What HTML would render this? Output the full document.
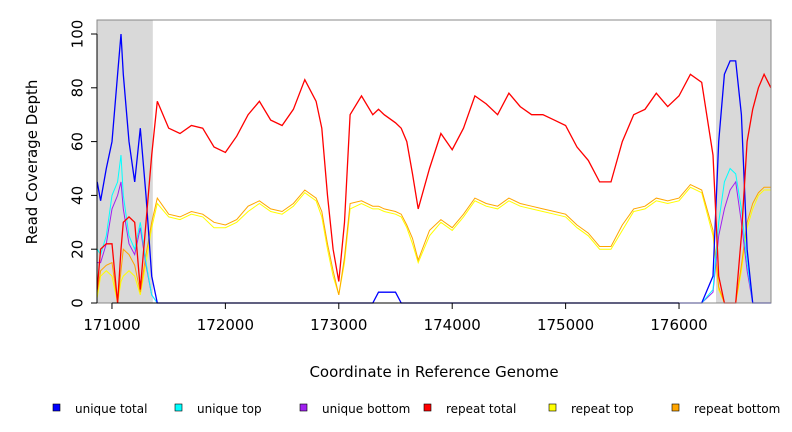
<!DOCTYPE html>
<html><head><meta charset="utf-8">
<style>
body{margin:0;background:#fff;font-family:"DejaVu Sans","Liberation Sans",sans-serif;}
svg{display:block}
</style></head>
<body>
<svg id="chart" width="792" height="432">
<g id="plot"></g>
</svg>
<script>
const coords=[170870,170900,170950,171000,171050,171080,171100,171150,171200,171250,171300,171350,171400,171500,171600,171700,171800,171900,172000,172100,172200,172300,172400,172500,172600,172700,172800,172850,172900,172950,173000,173050,173100,173200,173300,173350,173400,173500,173550,173600,173650,173700,173800,173900,174000,174100,174200,174300,174400,174500,174600,174700,174800,174900,175000,175100,175200,175300,175400,175500,175600,175700,175800,175900,176000,176100,176200,176300,176350,176400,176450,176500,176550,176600,176650,176700,176750,176810];
const uniqueTotal=[45,38,50,60,85,100,85,60,45,65,40,10,0,0,0,0,0,0,0,0,0,0,0,0,0,0,0,0,0,0,0,0,0,0,0,4,4,4,0,0,0,0,0,0,0,0,0,0,0,0,0,0,0,0,0,0,0,0,0,0,0,0,0,0,0,0,0,10,60,85,90,90,70,20,0,0,0,0];
const uniqueTop=[20,18,25,40,45,55,40,25,20,30,15,3,0,0,0,0,0,0,0,0,0,0,0,0,0,0,0,0,0,0,0,0,0,0,0,0,0,0,0,0,0,0,0,0,0,0,0,0,0,0,0,0,0,0,0,0,0,0,0,0,0,0,0,0,0,0,0,5,30,45,50,48,35,15,0,0,0,0];
const uniqueBottom=[15,15,22,35,40,45,35,22,18,28,14,3,0,0,0,0,0,0,0,0,0,0,0,0,0,0,0,0,0,0,0,0,0,0,0,0,0,0,0,0,0,0,0,0,0,0,0,0,0,0,0,0,0,0,0,0,0,0,0,0,0,0,0,0,0,0,0,4,25,35,42,45,30,12,0,0,0,0];
const repeatTotal=[5,20,22,22,0,20,30,32,30,5,30,55,75,65,63,66,65,58,56,62,70,75,68,66,72,83,75,65,40,20,8,30,70,77,70,72,70,67,65,60,48,35,50,63,57,65,77,74,70,78,73,70,70,68,66,58,53,45,45,60,70,72,78,73,77,85,82,55,10,0,0,0,25,60,72,80,85,80];
const repeatTop=[2,10,12,10,0,8,10,12,10,3,15,28,37,32,31,33,32,28,28,30,34,37,34,33,36,41,38,32,20,10,3,15,35,37,35,35,34,33,32,28,22,15,25,30,27,32,38,36,35,38,36,35,34,33,32,28,25,20,20,27,34,35,38,37,38,43,41,25,5,0,0,0,12,28,35,40,42,42];
const repeatBottom=[4,12,14,15,0,12,20,18,14,4,18,30,39,33,32,34,33,30,29,31,36,38,35,34,37,42,39,34,22,12,3,17,37,38,36,36,35,34,33,29,24,16,27,31,28,33,39,37,36,39,37,36,35,34,33,29,26,21,21,29,35,36,39,38,39,44,42,27,6,0,0,0,14,30,37,41,43,43];
const xTicks=[171000,172000,173000,174000,175000,176000];
const yTicks=[0,20,40,60,80,100];
const legendLabels=["unique total","unique top","unique bottom","repeat total","repeat top","repeat bottom"];
const colors=["#0000ff","#00ffff","#a020f0","#ff0000","#ffff00","#ffa500"];

const L=97,R=771,T=20,B=303;
const X0=170868,X1=176811;
const sx=v=>L+(v-X0)/(X1-X0)*(R-L);
const sy=v=>303-v*2.69;
const NS="http://www.w3.org/2000/svg";
const svg=document.getElementById('chart');
function mk(tag,attrs,parent){const e=document.createElementNS(NS,tag);for(const k in attrs)e.setAttribute(k,attrs[k]);(parent||svg).appendChild(e);return e;}

// shaded regions
let g1=mk('rect',{x:sx(170868),y:T,width:sx(171360)-sx(170868),height:B-T,fill:'#d9d9d9'});


let g2=mk('rect',{x:sx(176326),y:T,width:R-sx(176326),height:B-T,fill:'#d9d9d9'});



// series
const series=[uniqueTotal,uniqueTop,uniqueBottom,repeatTotal,repeatTop,repeatBottom];
const names=['unique-total-line','unique-top-line','unique-bottom-line','repeat-total-line','repeat-top-line','repeat-bottom-line'];
const order=[4,5,2,1,0,3];
order.forEach(i=>{
  const d=coords.map((c,j)=>(j?'L':'M')+sx(c).toFixed(1)+','+sy(series[i][j]).toFixed(1)).join('');
  const p=mk('path',{d:d,fill:'none',stroke:colors[i],'stroke-width':i===3||i===0?1.3:1});
  
  
});

// frame
let fr=mk('rect',{x:L,y:T,width:R-L,height:B-T,fill:'none',stroke:'#888','stroke-width':1});



// axes
let ya=mk('line',{x1:L,y1:sy(0),x2:L,y2:sy(100),stroke:'#000'});


yTicks.forEach(v=>{
  mk('line',{x1:L-6,y1:sy(v),x2:L,y2:sy(v),stroke:'#000'});
  const t=mk('text',{x:78,y:sy(v),'font-size':15,'text-anchor':'middle',transform:`rotate(-90 78 ${sy(v)})`,'dominant-baseline':'middle'});
  t.textContent=v;
  
  
});
let xa=mk('line',{x1:sx(171000),y1:B,x2:sx(176000),y2:B,stroke:'#000'});


xTicks.forEach(v=>{
  mk('line',{x1:sx(v),y1:B,x2:sx(v),y2:B+6,stroke:'#000'});
  const t=mk('text',{x:sx(v),y:330,'font-size':15,'text-anchor':'middle'});
  t.textContent=v;
  
  
});
let yt=mk('text',{x:37,y:162,'font-size':15,'text-anchor':'middle',transform:'rotate(-90 37 162)'});
yt.textContent='Read Coverage Depth';


let xt=mk('text',{x:434,y:377,'font-size':15,'text-anchor':'middle'});
xt.textContent='Coordinate in Reference Genome';



// legend
const lx=[57,179,304,428,553,676];
legendLabels.forEach((lab,i)=>{
  const r=mk('rect',{x:lx[i]-4,y:404,width:7,height:7,fill:colors[i],stroke:'#000','stroke-width':0.6});
  
  
  const t=mk('text',{x:lx[i]+18,y:413,'font-size':12});
  t.textContent=lab;
  
  
});
</script>
</body></html>
